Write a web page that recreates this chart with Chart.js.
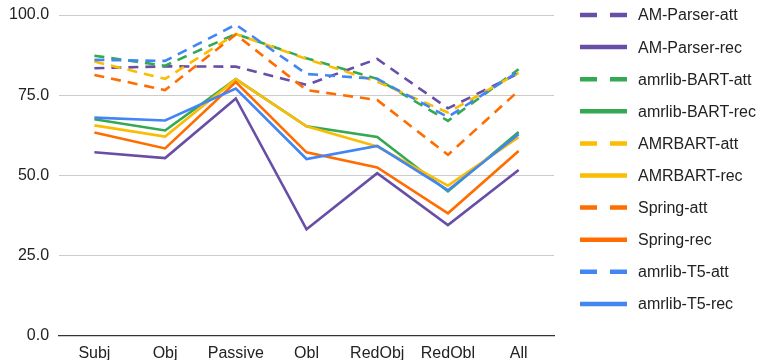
<!DOCTYPE html>
<html>
<head>
<meta charset="utf-8">
<script src="https://cdn.jsdelivr.net/npm/chart.js@4/dist/chart.umd.min.js"></script>
<style>
  html, body { margin: 0; padding: 0; background: #fff; }
  #wrap { width: 759px; height: 360px; position: relative; }
</style>
</head>
<body>
<div id="wrap"><canvas id="c" width="759" height="360"></canvas></div>
<script>
const categories = ['Subj', 'Obj', 'Passive', 'Obl', 'RedObj', 'RedObl', 'All'];
const yTicks = [0, 25, 50, 75, 100];

const amParserAtt   = [83.4, 84.0, 83.9, 78.2, 86.3, 70.9, 81.8];
const amParserRec   = [57.2, 55.4, 74.0, 33.2, 50.7, 34.5, 51.7];
const amrlibBartAtt = [87.3, 84.2, 94.1, 86.5, 80.1, 67.0, 83.1];
const amrlibBartRec = [67.5, 64.0, 80.0, 65.3, 62.0, 45.0, 63.5];
const amrbartAtt    = [85.5, 80.1, 94.1, 86.3, 79.2, 69.6, 82.0];
const amrbartRec    = [65.6, 62.1, 80.0, 65.3, 59.0, 46.8, 61.9];
const springAtt     = [81.3, 76.6, 93.9, 76.6, 73.5, 56.4, 76.4];
const springRec     = [63.4, 58.4, 79.1, 57.2, 52.5, 38.2, 57.6];
const amrlibT5Att   = [86.0, 85.7, 97.0, 81.6, 80.1, 68.2, 82.4];
const amrlibT5Rec   = [68.0, 67.1, 77.1, 55.1, 59.2, 45.4, 62.8];

const seriesNames = ['AM-Parser-att', 'AM-Parser-rec', 'amrlib-BART-att', 'amrlib-BART-rec',
  'AMRBART-att', 'AMRBART-rec', 'Spring-att', 'Spring-rec', 'amrlib-T5-att', 'amrlib-T5-rec'];
const seriesValues = [amParserAtt, amParserRec, amrlibBartAtt, amrlibBartRec,
  amrbartAtt, amrbartRec, springAtt, springRec, amrlibT5Att, amrlibT5Rec];
const seriesColors = ['#674ea7', '#674ea7', '#34a853', '#34a853', '#fbbc04', '#fbbc04',
  '#ff6d01', '#ff6d01', '#4285f4', '#4285f4'];

const FONT = 'Arial, "Liberation Sans", sans-serif';
const TEXT = '#222222';

const datasets = seriesNames.map((name, i) => {
  const dashed = name.endsWith('-att');
  return {
    label: name,
    data: seriesValues[i],
    borderColor: seriesColors[i],
    backgroundColor: seriesColors[i],
    borderWidth: 2.6,
    borderDash: dashed ? [10, 7] : [],
    pointRadius: 0,
    pointHoverRadius: 0,
    tension: 0,
    fill: false,
    order: -i  // later series paint over earlier ones
  };
});

// Legend column on the right: line sample + label per series
const sideLegend = {
  id: 'sideLegend',
  afterDraw(chart) {
    const ctx = chart.ctx;
    const x0 = 580, x1 = 627, tx = 638, y0 = 15, step = 32.1;
    ctx.save();
    chart.data.datasets.forEach((ds, i) => {
      const y = y0 + i * step;
      ctx.beginPath();
      ctx.strokeStyle = ds.borderColor;
      ctx.lineWidth = 4.5;
      ctx.lineCap = 'butt';
      ctx.setLineDash(ds.borderDash.length ? [17, 13] : []);
      ctx.moveTo(x0, y);
      ctx.lineTo(x1, y);
      ctx.stroke();
      ctx.setLineDash([]);
      ctx.fillStyle = TEXT;
      ctx.font = '16px ' + FONT;
      ctx.textAlign = 'left';
      ctx.textBaseline = 'middle';
      ctx.fillText(ds.label, tx, y + 1);
    });
    ctx.restore();
  }
};

new Chart(document.getElementById('c'), {
  type: 'line',
  data: { labels: categories, datasets },
  plugins: [sideLegend],
  options: {
    responsive: false,
    animation: false,
    events: [],
    layout: { padding: { left: -1, right: 205, top: 15, bottom: -11 } },
    plugins: {
      legend: { display: false },
      tooltip: { enabled: false }
    },
    scales: {
      x: {
        offset: true,
        grid: { display: false, drawTicks: false },
        border: { display: true, color: '#333333', width: 1.2 },
        ticks: { color: TEXT, font: { family: FONT, size: 16 }, padding: 8, maxRotation: 0 }
      },
      y: {
        min: 0,
        max: 100,
        afterBuildTicks(scale) { scale.ticks = yTicks.map(v => ({ value: v })); },
        afterFit(scale) { scale.paddingTop = 0; scale.paddingBottom = 0; },
        grid: { color: '#cccccc', lineWidth: 1, drawTicks: false },
        border: { display: false },
        ticks: {
          color: TEXT,
          font: { family: FONT, size: 16 },
          padding: 10,
          callback: v => Number(v).toFixed(1)
        }
      }
    }
  }
});
</script>
</body>
</html>
